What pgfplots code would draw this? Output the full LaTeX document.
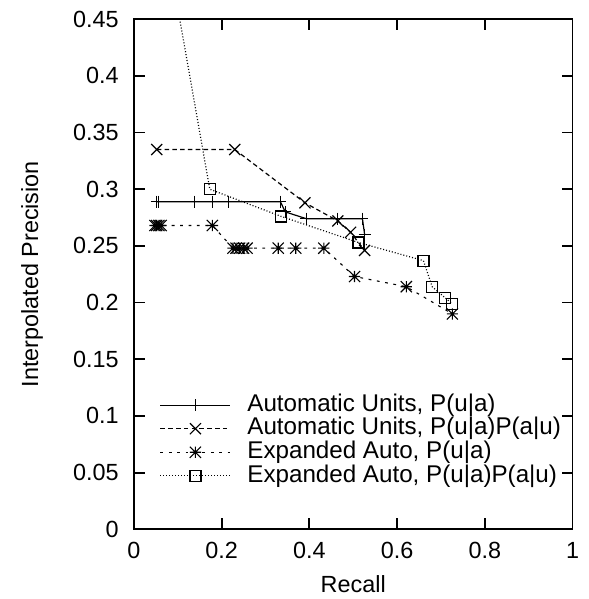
\documentclass[border=0pt]{standalone}
\usepackage{fontspec}
\setmainfont{Liberation Sans}
\usepackage{pgfplots}
\pgfplotsset{compat=1.18}

% gnuplot style star: plus and cross together
\pgfdeclareplotmark{gpstar}{%
  \pgfpathmoveto{\pgfqpoint{-\pgfplotmarksize}{0pt}}%
  \pgfpathlineto{\pgfqpoint{\pgfplotmarksize}{0pt}}%
  \pgfpathmoveto{\pgfqpoint{0pt}{-\pgfplotmarksize}}%
  \pgfpathlineto{\pgfqpoint{0pt}{\pgfplotmarksize}}%
  \pgfpathmoveto{\pgfqpoint{-\pgfplotmarksize}{-\pgfplotmarksize}}%
  \pgfpathlineto{\pgfqpoint{\pgfplotmarksize}{\pgfplotmarksize}}%
  \pgfpathmoveto{\pgfqpoint{-\pgfplotmarksize}{\pgfplotmarksize}}%
  \pgfpathlineto{\pgfqpoint{\pgfplotmarksize}{-\pgfplotmarksize}}%
  \pgfusepathqstroke}

\begin{document}
\begin{tikzpicture}[font=\fontsize{11.7}{14}\selectfont]
    \begin{axis}[
            scale only axis,
            width=219.5pt,
            height=255.25pt,
            xmin=0, xmax=1,
            ymin=0, ymax=0.45,
            xtick={0,0.2,0.4,0.6,0.8,1},
            xticklabels={0,0.2,0.4,0.6,0.8,1},
            ytick={0,0.05,0.1,0.15,0.2,0.25,0.3,0.35,0.4,0.45},
            yticklabels={0,0.05,0.1,0.15,0.2,0.25,0.3,0.35,0.4,0.45},
            xlabel={Recall},
            ylabel={Interpolated Precision},
            xlabel style={at={(axis description cs:0.5,0)}, anchor=center, yshift=-27.25pt},
            ylabel style={at={(axis description cs:-0.232,0.5)}, anchor=center},
            yticklabel style={xshift=-4.1pt},
            xticklabel style={yshift=-2.85pt},
            tick align=inside,
            major tick length=5.5pt,
            axis line style={line width=0.9pt},
            every tick/.style={black, line width=0.9pt},
            clip marker paths=true,
            legend style={draw=none, fill=none, inner sep=0pt, outer sep=0pt,
                    at={(axis description cs:0.0592,0.2654)}, anchor=north west,
                    row sep=0.6pt, column sep=8.2pt,
                    font=\fontsize{12.1}{14}\selectfont,
                    nodes={inner sep=0pt, text height=8.7pt, text depth=2.5pt}},
            legend cell align=left,
            legend image code/.code={\draw[mark repeat=2, mark phase=2, #1]
                    plot coordinates {(0pt,0pt) (17.5pt,0pt) (35pt,0pt)};},
        ]

        % Automatic Units, P(u|a)
        \addplot[black, line width=0.6pt, mark=+, mark size=3pt, mark options={solid}] coordinates {
                (0.052,0.289) (0.057,0.289) (0.139,0.289) (0.179,0.289) (0.215,0.289)
                (0.334,0.289) (0.345,0.280) (0.393,0.274) (0.464,0.274) (0.521,0.274)
                (0.526,0.260)
            };
        \addlegendentry{Automatic Units, P(u|a)}

        % Automatic Units, P(u|a)P(a|u)
        \addplot[black, line width=0.6pt, dash pattern=on 2.3pt off 1.6pt, mark=x, mark size=3.9pt, mark options={solid}] coordinates {
                (0.052,0.335) (0.230,0.335) (0.390,0.288) (0.465,0.272) (0.494,0.262)
                (0.526,0.246)
            };
        \addlegendentry{Automatic Units, P(u|a)P(a|u)}

        % Expanded Auto, P(u|a)
        \addplot[black, line width=0.55pt, dash pattern=on 1.4pt off 2.8pt, mark=gpstar, mark size=2.8pt, mark options={solid}] coordinates {
                (0.048,0.268) (0.052,0.268) (0.057,0.268) (0.062,0.268) (0.179,0.268)
                (0.226,0.248) (0.233,0.248) (0.241,0.248) (0.250,0.248) (0.258,0.248)
                (0.329,0.248) (0.369,0.248) (0.433,0.248) (0.503,0.223) (0.621,0.214)
                (0.726,0.190)
            };
        \addlegendentry{Expanded Auto, P(u|a)}

        % Expanded Auto, P(u|a)P(a|u)
        \addplot[black, line width=0.6pt, dash pattern=on 0.5pt off 1pt, mark=square, mark size=2.75pt, mark options={solid}] coordinates {
                (0.052,0.565) (0.173,0.300) (0.336,0.276) (0.512,0.253) (0.660,0.237)
                (0.680,0.214) (0.710,0.204) (0.726,0.199)
            };
        \addlegendentry{Expanded Auto, P(u|a)P(a|u)}

    \end{axis}
    \path (current axis.south west) ++(-67pt,-34.75pt) rectangle ([shift={(8pt,9.6pt)}]current axis.north east);
\end{tikzpicture}
\end{document}
